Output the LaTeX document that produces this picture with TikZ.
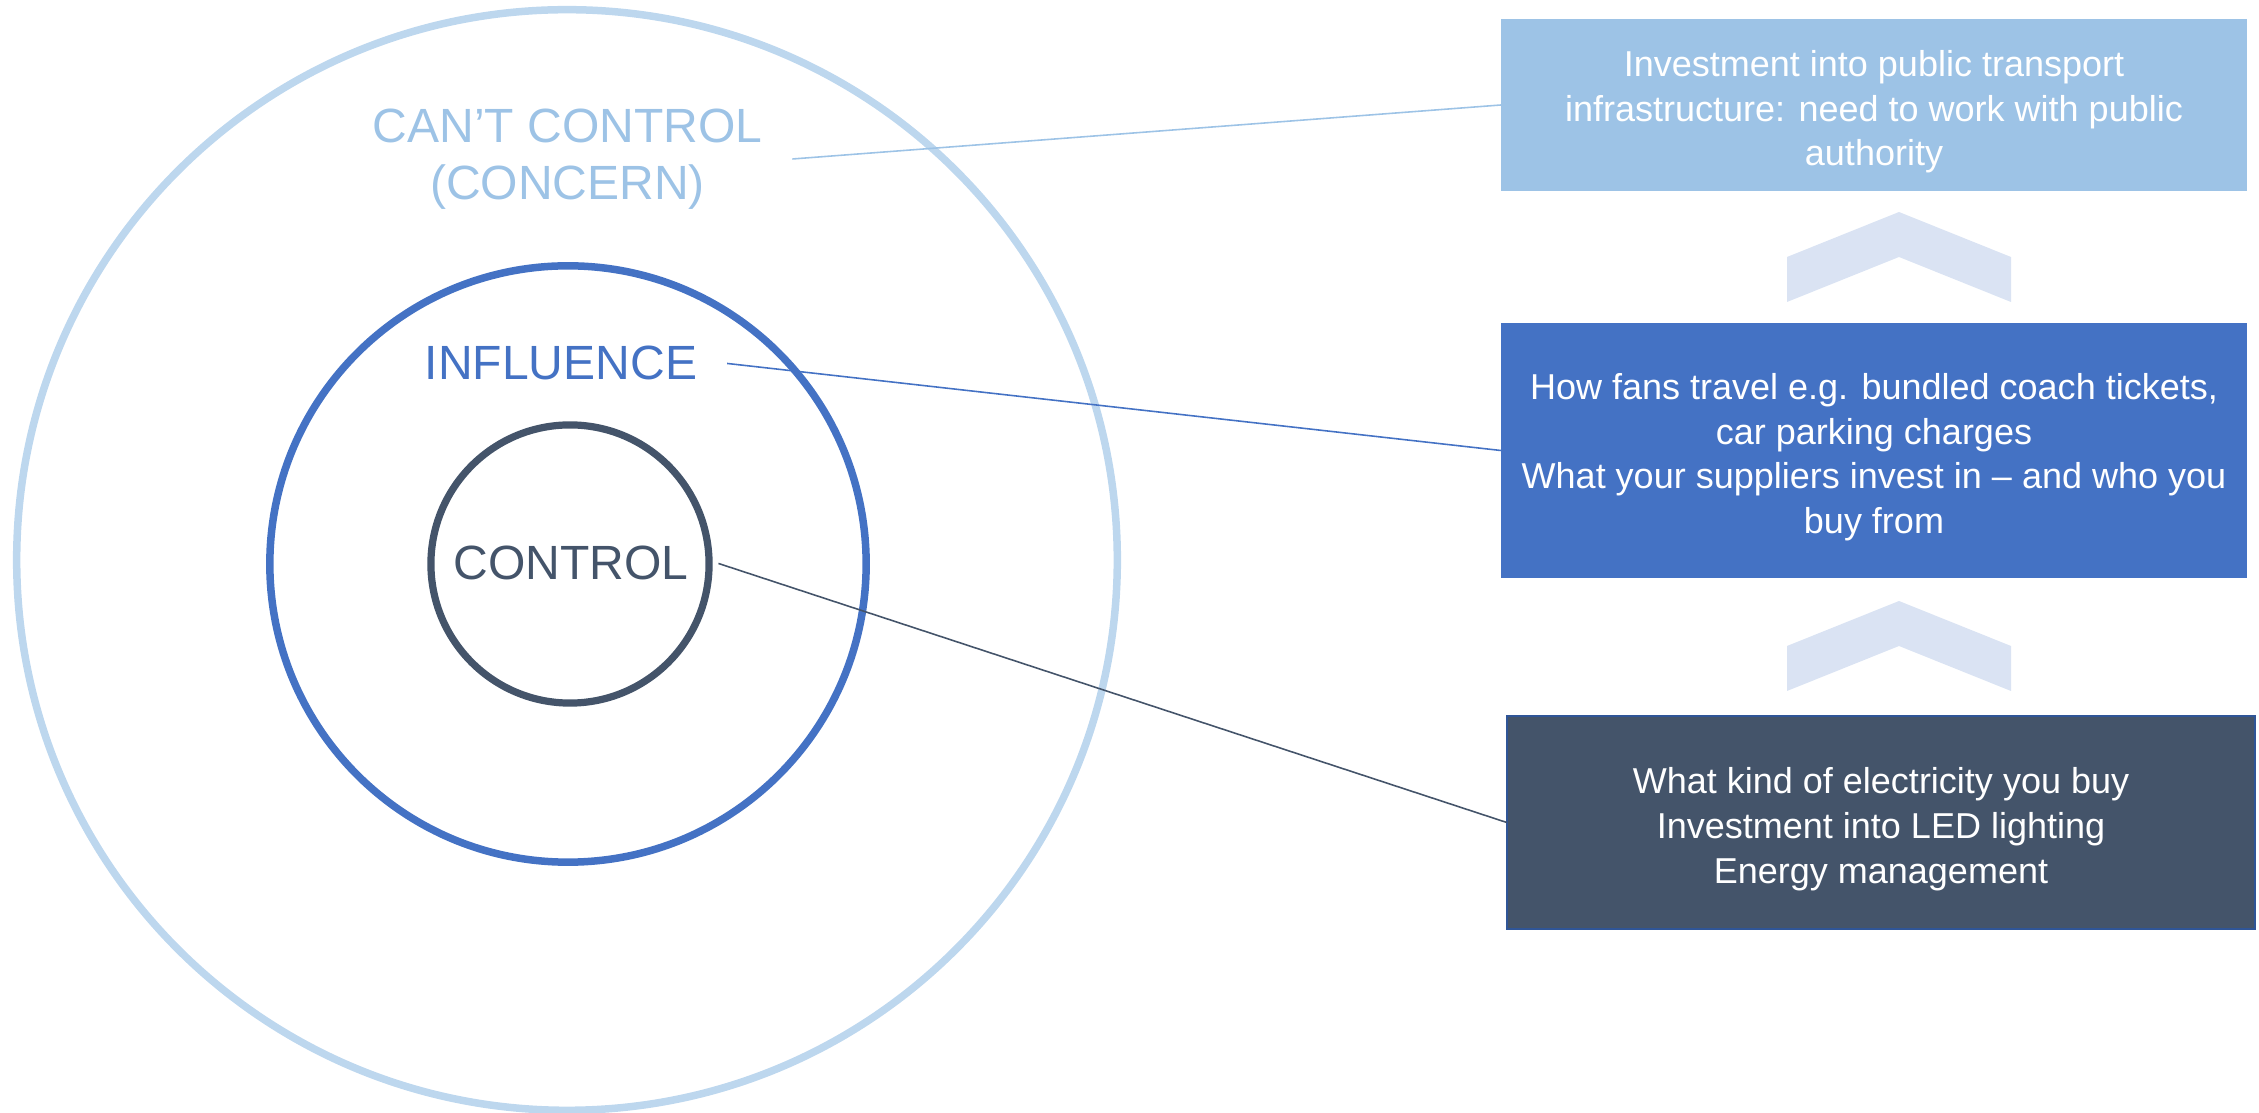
\documentclass[tikz,border=0pt]{standalone}
\usepackage{fontspec}
\setmainfont{Liberation Sans}
\definecolor{lightc}{HTML}{BDD7EE}
\definecolor{lighttxt}{HTML}{9DC3E6}
\definecolor{midc}{HTML}{4472C4}
\definecolor{darkc}{HTML}{44546A}
\definecolor{darkborder}{HTML}{2F5597}
\definecolor{chevc}{HTML}{DAE3F3}
\newcommand\boxstrut{\rule{0pt}{11.3pt}}
\tikzset{
  ring/.style={circle, draw, fill=none, inner sep=0pt, outer sep=0pt},
  ringlabel/.style={inner xsep=0.3cm, inner ysep=0pt, outer sep=0pt, align=center,
    font=\fontsize{13.66pt}{16.22pt}\selectfont},
  infobox/.style={rectangle, inner sep=0pt, outer sep=0pt, text=white, align=center,
    minimum width=7.46cm, font=\fontsize{10.24pt}{12.7pt}\selectfont},
  connector/.style={line width=0.45pt},
  chevron/.style={fill=chevc, draw=none}
}
\begin{document}
\begin{tikzpicture}[x=0.01cm, y=-0.01cm]
\useasboundingbox (0,0) rectangle (2259,1113);
% rings
\node[ring, draw=lightc, line width=0.075cm, minimum size=11cm] (outer) at (567,560) {};
\node[ring, draw=midc, line width=0.075cm, minimum size=5.96cm] (middle) at (568,564) {};
\node[ring, draw=darkc, line width=0.072cm, minimum size=2.78cm] (inner) at (570,564) {};
% ring labels
\node[ringlabel, text=lighttxt] (cant) at (567.5,159) {CAN’T CONTROL\\(CONCERN)};
\node[ringlabel, text=midc, anchor=base] (infl) at (561,380) {INFLUENCE};
\node[ringlabel, text=darkc, anchor=base] (ctrl) at (571,580) {CONTROL};
% boxes
\node[infobox, fill=lighttxt, minimum height=1.72cm] (box1) at (1874,105)
  {\boxstrut Investment into public transport\\infrastructure: need to work with public\\authority};
\node[infobox, fill=midc, minimum height=2.55cm] (box2) at (1874,450.5)
  {\boxstrut How fans travel e.g. bundled coach tickets,\\car parking charges\\What your suppliers invest in – and who you\\buy from};
\node[infobox, fill=darkc, draw=darkborder, line width=0.55pt, minimum width=7.48cm, minimum height=2.13cm] (box3) at (1881,822.5)
  {\boxstrut What kind of electricity you buy\\Investment into LED lighting\\Energy management};
% chevrons
\fill[chevron] (1787,257) -- (1899,212) -- (2011,257) -- (2011,302) -- (1899,257) -- (1787,302) -- cycle;
\fill[chevron] (1787,646) -- (1899,601) -- (2011,646) -- (2011,691) -- (1899,646) -- (1787,691) -- cycle;
% connectors
\draw[connector, lighttxt] (cant.east) -- (box1.west);
\draw[connector, midc] (infl.east) -- (box2.west);
\draw[connector, darkc] (ctrl.east) -- (box3.west);
\end{tikzpicture}
\end{document}
